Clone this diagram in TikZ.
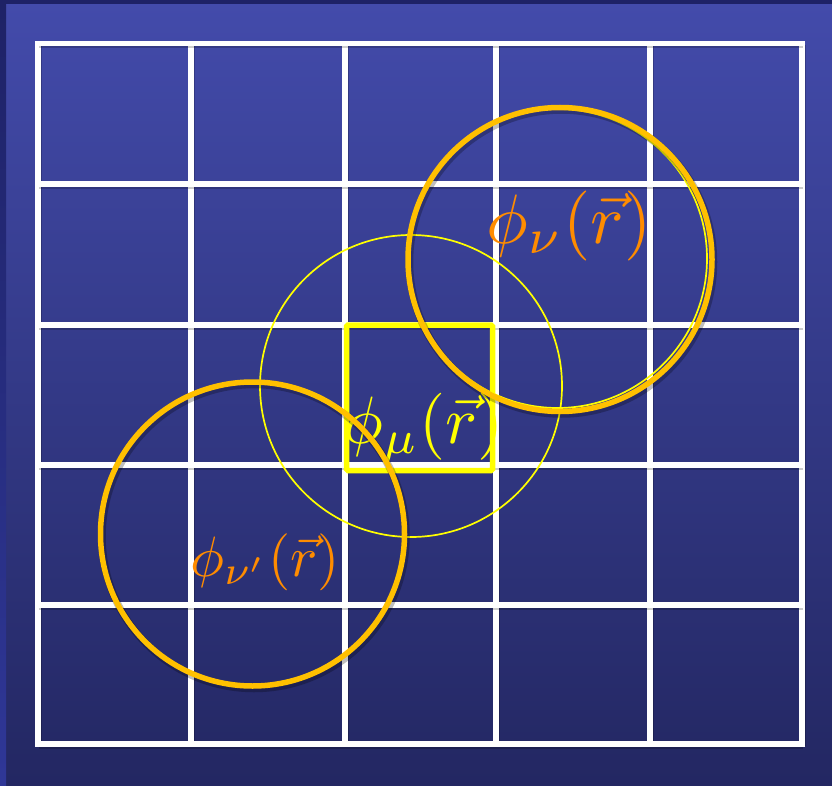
\documentclass[tikz,border=0pt]{standalone}
\usepackage{amsmath}
\usepackage{tikz}
\definecolor{bgtop}{HTML}{434BAB}
\definecolor{bgbot}{HTML}{232762}
\definecolor{edgenavy}{HTML}{1E2266}
\definecolor{edgeblue}{HTML}{2F3797}
\definecolor{ringgold}{HTML}{FFC000}
\definecolor{labelorange}{HTML}{FF8C00}
\definecolor{cellyellow}{HTML}{FFFF00}

\begin{document}
\begin{tikzpicture}[x=1pt,y=-1pt,
    gridline/.style={white,line width=5.8pt,line cap=rect,
      preaction={draw=black,draw opacity=0.2,line width=6.5pt,
        transform canvas={shift={(1pt,-1.5pt)}}}},
    orbit/.style={ringgold,line width=5.5pt,
      preaction={draw=black,draw opacity=0.25,line width=7.5pt,
        transform canvas={shift={(1.5pt,-2.5pt)}}}},
    thinorbit/.style={cellyellow,line width=1.7pt},
    orblabel/.style={inner sep=0pt,anchor=center}]
  % background
  \shade[top color=bgtop,bottom color=bgbot] (0,0) rectangle (832,786);
  \useasboundingbox (0,0) rectangle (832,786);
  \shade[top color=edgenavy,bottom color=edgeblue] (0,0) rectangle (6,786);
  \fill[edgenavy] (0,0) rectangle (832,4);
  % grid of cells
  \foreach \gx in {38,191,345,496,650,802}
    \draw[gridline] (\gx,43.5) -- (\gx,744);
  \foreach \gy in {43.5,184,325,465,605,744}
    \draw[gridline] (38,\gy) -- (802,\gy);
  % thin circles
  \draw[thinorbit] (411,386) circle (151);
  \draw[thinorbit] (557.5,258.5) circle (149.5);
  % central cell
  \draw[cellyellow,line width=5.5pt,rounded corners=1.5pt]
    (346.5,325) rectangle (492.5,470.5);
  % labels
  \node[orblabel,text=cellyellow,scale=6.7]
    (phimu) at (423.5,428) {$\phi_\mu(\vec{r})$};
  \node[orblabel,text=labelorange,scale=7]
    (phinu) at (569,226) {$\phi_\nu(\vec{r})$};
  \node[orblabel,text=labelorange,scale=5.7]
    (phinup) at (265,562) {$\phi_{\nu'}(\vec{r})$};
  % orbitals
  \draw[orbit] (560,259.5) circle (152);
  \draw[orbit] (252.5,534) circle (152);
\end{tikzpicture}
\end{document}
